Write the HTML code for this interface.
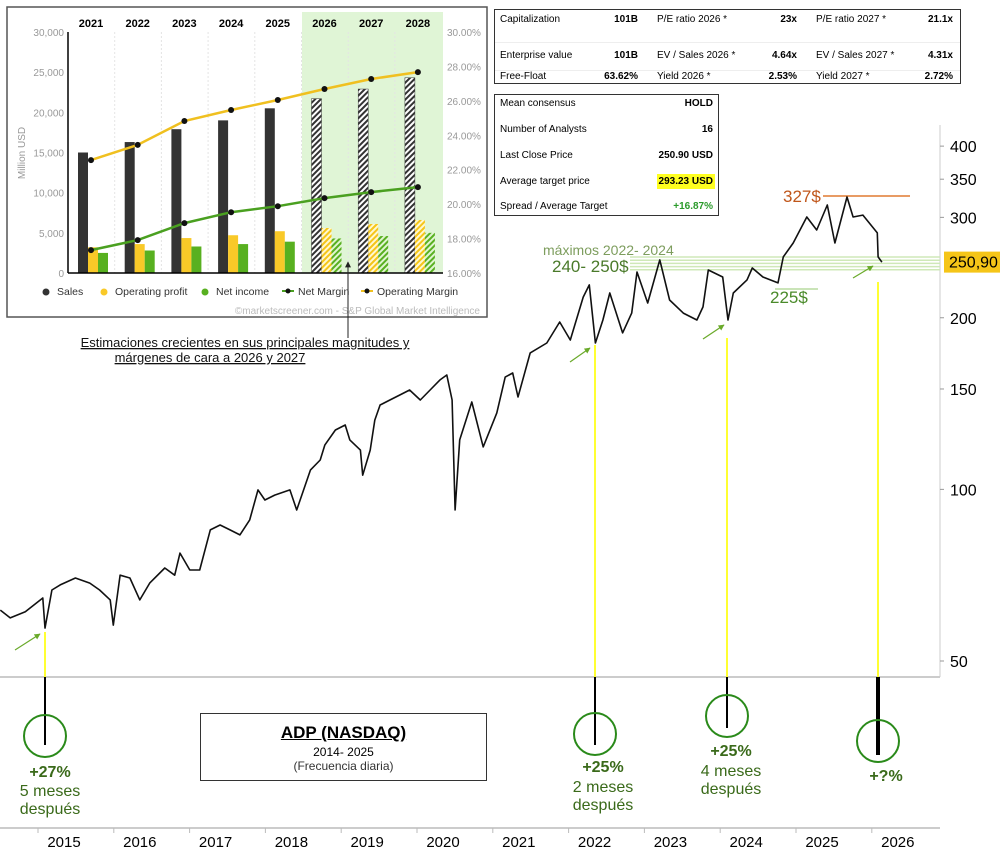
<!DOCTYPE html>
<html><head><meta charset="utf-8">
<style>
body{margin:0;background:#fff;width:1000px;height:851px;overflow:hidden;font-family:"Liberation Sans",sans-serif}
svg{position:absolute;left:0;top:0}
text{font-family:"Liberation Sans",sans-serif}
</style></head>
<body>
<svg id="main" width="1000" height="851">
<defs>
<pattern id="hatchK" width="4" height="4" patternUnits="userSpaceOnUse" patternTransform="rotate(45)"><rect width="4" height="4" fill="#fff"/><rect width="2" height="4" fill="#333"/></pattern>
<pattern id="hatchY" width="4" height="4" patternUnits="userSpaceOnUse" patternTransform="rotate(45)"><rect width="4" height="4" fill="#fff8d0"/><rect width="2" height="4" fill="#f5c518"/></pattern>
<pattern id="hatchG" width="4" height="4" patternUnits="userSpaceOnUse" patternTransform="rotate(45)"><rect width="4" height="4" fill="#e0f5d0"/><rect width="2" height="4" fill="#58b020"/></pattern>
<marker id="ga" viewBox="0 0 10 10" refX="9" refY="5" markerWidth="5" markerHeight="5" orient="auto"><path d="M0,0L10,5L0,10z" fill="#6aaa2a"/></marker>
<marker id="ka" viewBox="0 0 10 10" refX="9" refY="5" markerWidth="6" markerHeight="6" orient="auto"><path d="M0,0L10,5L0,10z" fill="#222"/></marker>
</defs>
<g id="priceLayer"></g>
<g id="insetLayer"></g>
</svg>
<script>
// ===== main price chart data =====
const priceDates=[2014.16,2014.29,2014.49,2014.72,2014.75,2014.84,2014.95,2015.15,2015.34,2015.47,2015.61,2015.65,2015.74,2015.87,2016.00,2016.13,2016.33,2016.46,2016.53,2016.66,2016.79,2016.93,2017.06,2017.19,2017.32,2017.45,2017.56,2017.65,2017.78,2017.98,2018.07,2018.25,2018.38,2018.44,2018.58,2018.71,2018.77,2018.91,2018.94,2019.04,2019.10,2019.17,2019.30,2019.43,2019.56,2019.70,2019.83,2019.96,2020.05,2020.12,2020.16,2020.22,2020.38,2020.53,2020.71,2020.82,2020.92,2020.99,2021.15,2021.37,2021.54,2021.68,2021.85,2021.93,2022.01,2022.11,2022.20,2022.37,2022.49,2022.56,2022.70,2022.86,2022.99,2023.17,2023.35,2023.43,2023.50,2023.69,2023.76,2023.83,2024.01,2024.08,2024.22,2024.42,2024.49,2024.62,2024.80,2024.93,2025.07,2025.17,2025.33,2025.41,2025.54,2025.73,2025.74,2025.79];
const priceValues=[61.4,59.5,61.0,64.5,57.1,66.6,68.0,69.9,68.5,66.6,64.0,57.8,70.7,69.9,64.0,68.5,72.8,70.7,77.3,72.2,72.2,84.9,86.6,84.9,83.2,88.4,99.8,95.8,97.7,99.8,92.0,108.1,112.6,119.6,127.1,129.7,122.1,117.2,105.9,117.2,132.3,140.6,143.5,146.4,149.4,143.5,149.4,155.6,158.7,143.5,92.0,122.1,142.3,118.7,136.2,157.4,160.0,145.2,173.5,180.6,196.6,182.8,217.4,228.4,180.6,198.2,221.0,188.1,203.8,240.6,212.3,252.6,214.9,203.8,198.2,209.0,242.5,235.8,198.2,221.0,233.0,244.5,235.8,230.2,255.7,270.5,300.4,285.1,315.4,270.5,325.7,300.4,302.8,281.7,255.7,250.4];
const yTickValues=[50,100,150,200,250.9,300,350,400];
const yTickLabels=["50","100","150","200","250,90","300","350","400"];
const yearLabels=["2015","2016","2017","2018","2019","2020","2021","2022","2023","2024","2025","2026"];

const NS="http://www.w3.org/2000/svg";
function el(tag,attrs,parent,txt){const e=document.createElementNS(NS,tag);for(const k in attrs)e.setAttribute(k,attrs[k]);if(txt!==undefined)e.textContent=txt;parent.appendChild(e);return e;}
const xT=d=>64+(d-2015)*75.8;
const yP=p=>661-247.6*Math.log(p/50);
const P=document.getElementById('priceLayer');

// right axis
el('line',{x1:940,y1:125,x2:940,y2:677,stroke:'#ccc','stroke-width':1},P);
yTickValues.forEach((v,i)=>{
  const y=yP(v);
  if(yTickLabels[i]==="250,90"){
    const r=el('rect',{x:944,y:y-10,width:56,height:21,fill:'#f5c518'},P);
    
    
    const t=el('text',{x:949,y:y+6,'font-size':16,fill:'#000'},P,yTickLabels[i]);
    
    
  } else {
    el('line',{x1:940,y1:y,x2:944,y2:y,stroke:'#999'},P);
    const t=el('text',{x:950,y:y+6,'font-size':16,fill:'#000'},P,yTickLabels[i]);
    
    
  }
});
// separators
el('line',{x1:0,y1:677,x2:940,y2:677,stroke:'#ccc','stroke-width':2},P);
el('line',{x1:0,y1:828,x2:940,y2:828,stroke:'#ccc','stroke-width':2},P);
yearLabels.forEach((l,i)=>{
  const x=xT(2015+i);
  el('line',{x1:x-26,y1:828,x2:x-26,y2:833,stroke:'#bbb'},P);
  const t=el('text',{x:x,y:847,'font-size':15,'text-anchor':'middle',fill:'#000'},P,l);
  
  
});
// zones
for(let k=0;k<5;k++) el('line',{x1:630,y1:257+k*3.2,x2:940,y2:257+k*3.2,stroke:'#cfe8b8','stroke-width':1.5},P);
el('line',{x1:823,y1:196,x2:910,y2:196,stroke:'#e07a30','stroke-width':1.5},P);
el('line',{x1:775,y1:289,x2:818,y2:289,stroke:'#b8dca0','stroke-width':1.5},P);
// yellow & black markers
[[45,632,745,2],[595,345,745,2],[727,338,728,2],[878,282,755,4]].forEach(m=>{
  el('line',{x1:m[0],y1:m[1],x2:m[0],y2:677,stroke:'#ffff33','stroke-width':2},P);
  el('line',{x1:m[0],y1:677,x2:m[0],y2:m[2],stroke:'#000','stroke-width':m[3]},P);
});
// price line
let d='';priceDates.forEach((t,i)=>{d+=(i?'L':'M')+xT(t).toFixed(1)+','+yP(priceValues[i]).toFixed(1);});
const pl=el('path',{d:d,fill:'none',stroke:'#111','stroke-width':1.6,'stroke-linejoin':'round'},P);


// arrows
[[15,650,40,634],[570,362,590,348],[703,339,724,325],[853,278,873,266]].forEach(a=>{
  el('line',{x1:a[0],y1:a[1],x2:a[2],y2:a[3],stroke:'#6aaa2a','stroke-width':1.2,'marker-end':'url(#ga)'},P);
});
// circles
[[45,736],[595,734],[727,716],[878,741]].forEach(c=>{
  const e=el('circle',{cx:c[0],cy:c[1],r:21,fill:'none',stroke:'#2a8a1a','stroke-width':2},P);
  
  
});

// ===== inset fundamentals chart =====
const years=["2021","2022","2023","2024","2025","2026","2027","2028"];
const sales=[15000,16300,17900,19000,20500,21700,22900,24300];
const opProfit=[3200,3600,4350,4700,5200,5600,6100,6600];
const netIncome=[2500,2800,3300,3600,3900,4300,4600,5000];
const opMargin=[22.56,23.44,24.83,25.47,26.05,26.69,27.27,27.67];
const netMargin=[17.33,17.91,18.9,19.53,19.88,20.35,20.7,20.99];
const leftTicks=[0,5000,10000,15000,20000,25000,30000];
const leftTickLabels=["0","5,000","10,000","15,000","20,000","25,000","30,000"];
const rightTicks=[16,18,20,22,24,26,28,30];
const rightTickLabels=["16.00%","18.00%","20.00%","22.00%","24.00%","26.00%","28.00%","30.00%"];
const I=document.getElementById('insetLayer');
const yL=v=>273-v*(241/30000);
const yR=v=>273-(v-16)*(241/14);
const xC=i=>91+i*46.7;
const fc=5;
el('rect',{x:7,y:7,width:480,height:310,fill:'#fff',stroke:'#555','stroke-width':1.5},I);
el('rect',{x:302,y:12,width:141,height:261,fill:'#e0f5d6'},I);
years.forEach((y,i)=>{
  if(i>0) el('line',{x1:xC(i)-23,y1:32,x2:xC(i)-23,y2:273,stroke:'#e4e4e4','stroke-dasharray':'2,2'},I);
  const t=el('text',{x:xC(i),y:27,'font-size':11,'font-weight':'bold','text-anchor':'middle'},I,y);
  
  
});
leftTicks.forEach((v,i)=>{const t=el('text',{x:64,y:yL(v)+4,'font-size':10,'text-anchor':'end',fill:'#999'},I,leftTickLabels[i]);});
rightTicks.forEach((v,i)=>{const t=el('text',{x:447,y:yR(v)+4,'font-size':10,fill:'#999'},I,rightTickLabels[i]);});
el('text',{x:25,y:153,'font-size':10,fill:'#999','text-anchor':'middle',transform:'rotate(-90 25 153)'},I,'Million USD');
years.forEach((y,i)=>{
  const f=i>=fc,c=xC(i);
  const b1=el('rect',{x:c-13,y:yL(sales[i]),width:10,height:273-yL(sales[i]),fill:f?'url(#hatchK)':'#333',stroke:f?'#333':'none','stroke-width':.5},I);
  
  
  const b2=el('rect',{x:c-3,y:yL(opProfit[i]),width:10,height:273-yL(opProfit[i]),fill:f?'url(#hatchY)':'#f9c928'},I);
  
  
  const b3=el('rect',{x:c+7,y:yL(netIncome[i]),width:10,height:273-yL(netIncome[i]),fill:f?'url(#hatchG)':'#58b020'},I);
  
  
});
el('line',{x1:68,y1:32,x2:68,y2:273,stroke:'#000','stroke-width':1.5},I);
el('line',{x1:68,y1:273,x2:443,y2:273,stroke:'#000','stroke-width':1.5},I);
function lineS(arr,col,name){
  let d='';arr.forEach((v,i)=>{d+=(i?'L':'M')+xC(i)+','+yR(v).toFixed(1);});
  const p=el('path',{d:d,fill:'none',stroke:col,'stroke-width':2.5},I);
  
  
  arr.forEach((v,i)=>el('circle',{cx:xC(i),cy:yR(v),r:3,fill:'#111'},I));
}
lineS(opMargin,'#f0c020','line-operating-margin');
lineS(netMargin,'#4aa020','line-net-margin');
// legend
const lg=[[46,'#333','Sales',0],[104,'#f9c928','Operating profit',0],[205,'#58b020','Net income',0],[288,'#4aa020','Net Margin',1],[367,'#f0c020','Operating Margin',1]];
lg.forEach(l=>{
  const g=el('g',{},I);
  
  
  if(l[3]){el('line',{x1:l[0]-6,y1:291,x2:l[0]+6,y2:291,stroke:l[1],'stroke-width':2},g);el('circle',{cx:l[0],cy:291,r:2.5,fill:'#111'},g);}
  else el('circle',{cx:l[0],cy:292,r:3.5,fill:l[1]},g);
  el('text',{x:l[0]+(l[3]?10:11),y:295,'font-size':10.5,fill:'#333'},g,l[2]);
});
el('text',{x:480,y:314,'font-size':10,fill:'#bbb','text-anchor':'end'},I,'©marketscreener.com - S&P Global Market Intelligence');
// arrow pointing into inset
el('line',{x1:348,y1:338,x2:348,y2:262,stroke:'#222','stroke-width':1,'marker-end':'url(#ka)'},I);
</script>

<svg width="1000" height="851" style="pointer-events:none">
<g font-family="Liberation Sans, sans-serif">
<text x="245" y="347" font-size="13" text-anchor="middle" text-decoration="underline" fill="#111">Estimaciones crecientes en sus principales magnitudes y</text>
<text x="210" y="362" font-size="13" text-anchor="middle" text-decoration="underline" fill="#111">márgenes de cara a 2026 y 2027</text>
<text x="543" y="255" font-size="14" fill="#7d9d5d">máximos 2022- 2024</text>
<text x="552" y="272" font-size="17" fill="#4a7a2a">240- 250$</text>
<text x="783" y="202" font-size="17" fill="#c0561a">327$</text>
<text x="770" y="303" font-size="17" fill="#4a8a2a">225$</text>
<g fill="#3a6a1a" font-size="16" text-anchor="middle">
<text x="50" y="777" font-weight="bold">+27%</text><text x="50" y="796">5 meses</text><text x="50" y="814">después</text>
<text x="603" y="772" font-weight="bold">+25%</text><text x="603" y="792">2 meses</text><text x="603" y="810">después</text>
<text x="731" y="756" font-weight="bold">+25%</text><text x="731" y="776">4 meses</text><text x="731" y="794">después</text>
<text x="886" y="781" font-weight="bold">+?%</text>
</g>
</g>
</svg>

<div style="position:absolute;left:200px;top:713px;width:285px;height:66px;border:1px solid #333;text-align:center;font-family:'Liberation Sans',sans-serif">
<div style="font-size:17px;font-weight:bold;text-decoration:underline;margin-top:9px">ADP (NASDAQ)</div>
<div style="font-size:12px;margin-top:2px">2014- 2025</div>
<div style="font-size:12px;color:#333">(Frecuencia diaria)</div>
</div>

<div style="position:absolute;left:494px;top:9px;width:465px;height:73px;border:1.5px solid #333;background:#fff;font-size:10px;font-family:'Liberation Sans',sans-serif">
<div style="position:absolute;left:5px;top:4px">Capitalization</div><div style="position:absolute;left:0;width:143px;text-align:right;top:4px;font-weight:bold">101B</div>
<div style="position:absolute;left:162px;top:4px">P/E ratio 2026 *</div><div style="position:absolute;left:0;width:302px;text-align:right;top:4px;font-weight:bold">23x</div>
<div style="position:absolute;left:321px;top:4px">P/E ratio 2027 *</div><div style="position:absolute;left:0;width:458px;text-align:right;top:4px;font-weight:bold">21.1x</div>
<div style="position:absolute;left:0;right:0;top:32px;border-top:1px solid #eee"></div>
<div style="position:absolute;left:5px;top:40px">Enterprise value</div><div style="position:absolute;left:0;width:143px;text-align:right;top:40px;font-weight:bold">101B</div>
<div style="position:absolute;left:162px;top:40px">EV / Sales 2026 *</div><div style="position:absolute;left:0;width:302px;text-align:right;top:40px;font-weight:bold">4.64x</div>
<div style="position:absolute;left:321px;top:40px">EV / Sales 2027 *</div><div style="position:absolute;left:0;width:458px;text-align:right;top:40px;font-weight:bold">4.31x</div>
<div style="position:absolute;left:0;right:0;top:60px;border-top:1px solid #eee"></div>
<div style="position:absolute;left:5px;top:61px">Free-Float</div><div style="position:absolute;left:0;width:143px;text-align:right;top:61px;font-weight:bold">63.62%</div>
<div style="position:absolute;left:162px;top:61px">Yield 2026 *</div><div style="position:absolute;left:0;width:302px;text-align:right;top:61px;font-weight:bold">2.53%</div>
<div style="position:absolute;left:321px;top:61px">Yield 2027 *</div><div style="position:absolute;left:0;width:458px;text-align:right;top:61px;font-weight:bold">2.72%</div>
</div>

<div style="position:absolute;left:494px;top:94px;width:223px;height:120px;border:1.5px solid #333;background:#fff;font-size:10px;font-family:'Liberation Sans',sans-serif">
<div style="position:absolute;left:5px;top:3px">Mean consensus</div><div style="position:absolute;right:5px;top:3px;font-weight:bold">HOLD</div>
<div style="position:absolute;left:5px;top:29px">Number of Analysts</div><div style="position:absolute;right:5px;top:29px;font-weight:bold">16</div>
<div style="position:absolute;left:5px;top:55px">Last Close Price</div><div style="position:absolute;right:5px;top:55px;font-weight:bold">250.90 USD</div>
<div style="position:absolute;left:5px;top:81px">Average target price</div><div style="position:absolute;right:3px;top:79px;font-weight:bold;background:#ffff20;padding:2px 2px">293.23 USD</div>
<div style="position:absolute;left:5px;top:106px">Spread / Average Target</div><div style="position:absolute;right:5px;top:106px;font-weight:bold;color:#2a9a2a">+16.87%</div>
</div>
</body></html>
